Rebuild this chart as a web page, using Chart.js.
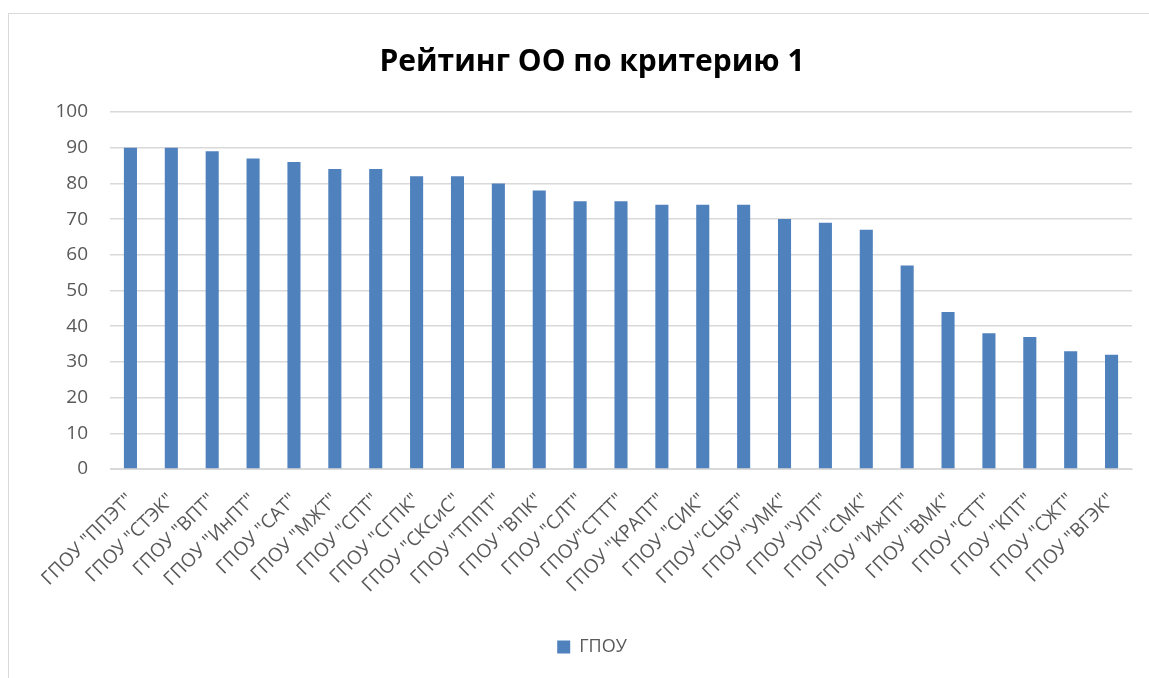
<!DOCTYPE html>
<html><head><meta charset="utf-8">
<script src="https://cdn.jsdelivr.net/npm/chart.js@4.4.0/dist/chart.umd.min.js"></script>
<style>
html,body{margin:0;padding:0;background:#fff;}
#wrap{position:absolute;left:0;top:0;width:1149px;height:678px;}
#frame{position:absolute;left:8px;top:13px;width:1200px;height:700px;border:1px solid #d9d9d9;box-sizing:border-box;}
canvas{position:absolute;left:0;top:0;}
</style></head>
<body>
<div id="wrap"><div id="frame"></div><canvas id="c" width="1149" height="678"></canvas></div>
<script>
const categories = ['ГПОУ "ППЭТ"','ГПОУ "СТЭК"','ГПОУ "ВПТ"','ГПОУ "ИнПТ"','ГПОУ "САТ"','ГПОУ "МЖТ"','ГПОУ "СПТ"','ГПОУ "СГПК"','ГПОУ "СКСиС"','ГПОУ "ТППТ"','ГПОУ "ВПК"','ГПОУ "СЛТ"','ГПОУ"СТТТ"','ГПОУ "КРАПТ"','ГПОУ "СИК"','ГПОУ "СЦБТ"','ГПОУ "УМК"','ГПОУ "УПТ"','ГПОУ "СМК"','ГПОУ "ИжПТ"','ГПОУ "ВМК"','ГПОУ "СТТ"','ГПОУ "КПТ"','ГПОУ "СЖТ"','ГПОУ "ВГЭК"'];
const seriesName = 'ГПОУ';
const values = [90,90,89,87,86,84,84,82,82,80,78,75,75,74,74,74,70,69,67,57,44,38,37,33,32];
const yTicks = {min:0, max:100, step:10};
const titleText = 'Рейтинг ОО по критерию 1';

const FONT = "'Open Sans', 'Noto Sans', sans-serif";
new Chart(document.getElementById('c'), {
  type: 'bar',
  data: {labels: categories, datasets: [{label: seriesName, data: values, backgroundColor: '#4f81bd', categoryPercentage: 1, barPercentage: 0.32}]},
  options: {
    responsive: false, animation: false,
    layout: {padding: {left: 52, right: 17, top: 24, bottom: 12}},
    plugins: {
      title: {display: true, text: titleText, color: '#000', font: {family: FONT, size: 30, weight: 'bold'}, padding: {top: 20, bottom: 32}},
      legend: {position: 'bottom', labels: {color: '#595959', font: {family: FONT, size: 18}, boxWidth: 13, boxHeight: 13, padding: 10}},
      tooltip: {enabled: false}
    },
    scales: {
      x: {grid: {display: false}, border: {color: '#d9d9d9'},
          afterFit: (s) => { s.height = 159; },
          ticks: {color: '#595959', font: {family: FONT, size: 19}, minRotation: 45, maxRotation: 45, autoSkip: false, padding: 12}},
      y: {min: yTicks.min, max: yTicks.max, grid: {color: '#d9d9d9', lineWidth: 1.5, drawTicks: false}, border: {display: false},
          afterFit: (s) => { s.width = 58; },
          ticks: {stepSize: yTicks.step, color: '#595959', font: {family: FONT, size: 19}, padding: 22}}
    }
  }
});
</script>
</body></html>
